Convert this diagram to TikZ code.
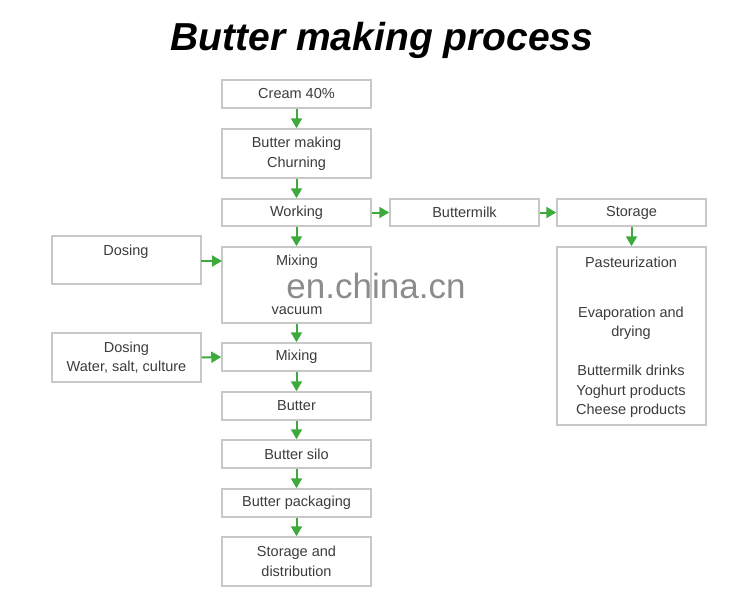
\documentclass[tikz,border=0pt]{standalone}
\usepackage{fontspec}
\setmainfont{Liberation Sans}
\usetikzlibrary{arrows.meta}
\definecolor{bx}{RGB}{200,200,200}
\definecolor{tx}{RGB}{60,60,60}
\definecolor{gr}{RGB}{60,170,60}
\begin{document}
\begin{tikzpicture}[x=1pt,y=-1pt,
  box/.style={draw=bx,line width=1.5pt,fill=white,text=tx,font=\fontsize{14.5}{19.5}\selectfont,align=center,inner sep=0pt},
  lbl/.style={text=tx,font=\fontsize{14.5}{19.5}\selectfont,align=center},
  arr/.style={-{Triangle[length=10pt,width=11pt]},draw=gr,fill=gr,line width=2pt}]
\useasboundingbox (0,0) rectangle (750,600);
\node[font=\fontsize{39}{44}\bfseries\itshape\selectfont] (title) at (382,40) {Butter making process};
\newcommand\pbox[6]{\node[box,minimum width=#3-#2,minimum height=#5-#4] (#1) at ({(#2+#3)/2},{(#4+#5)/2}) {#6};}
\pbox{c1}{222}{371}{80}{108}{Cream 40\%}
\pbox{c2}{222}{371}{129}{178}{Butter making\\Churning}
\pbox{c3}{222}{371}{199}{226}{Working}
\pbox{c4}{222}{371}{247}{323}{}
\pbox{c5}{222}{371}{343}{371}{Mixing}
\pbox{c6}{222}{371}{392}{420}{Butter}
\pbox{c7}{222}{371}{440}{468}{Butter silo}
\pbox{c8}{222}{371}{489}{517}{Butter packaging}
\pbox{c9}{222}{371}{537}{586}{Storage and\\distribution}
\pbox{bm}{390}{539}{199}{226}{Buttermilk}
\pbox{st}{557}{706}{199}{226}{Storage}
\pbox{pa}{557}{706}{247}{425}{}
\pbox{d1}{52}{201}{236}{284}{}
\pbox{d2}{52}{201}{333}{382}{Dosing\\Water, salt, culture}
\node[lbl] (t1) at (126,252) {Dosing};
\node[lbl] (t2) at (297,262) {Mixing};
\node[lbl] (t3) at (297,311) {vacuum};
\node[lbl] (t4) at (631,262) {Pasteurization};
\node[lbl] (t5) at (631,362) {Evaporation and\\drying\\[19.5pt]Buttermilk drinks\\Yoghurt products\\Cheese products};
\foreach \a/\b in {c1/c2,c2/c3,c3/c4,c4/c5,c5/c6,c6/c7,c7/c8,c8/c9,st/pa}
  \draw[arr] (\a.south) -- (\b.north);
\draw[arr] (c3.east) -- (bm.west);
\draw[arr] (bm.east) -- (st.west);
\draw[arr] (d2.east) -- (c5.west);
\coordinate (a1) at (201,261);
\coordinate (a2) at (222,261);
\draw[arr] (a1) -- (a2);
\node[text=black!45,font=\fontsize{35}{40}\selectfont,inner sep=0pt] (wm) at (376,286) {en.china.cn};
\end{tikzpicture}
\end{document}
